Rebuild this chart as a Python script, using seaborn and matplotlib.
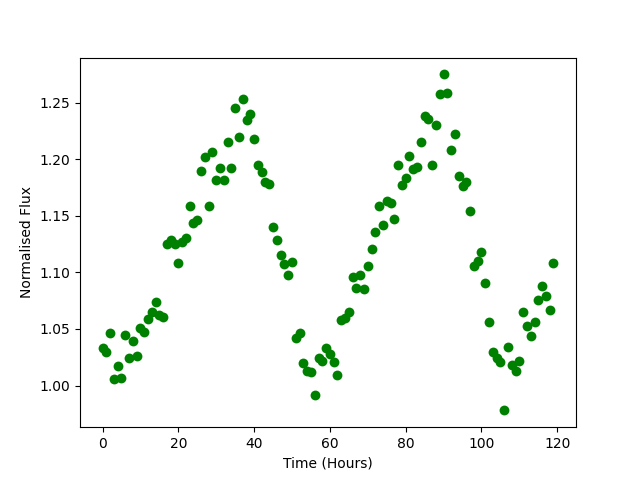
import numpy as np
import matplotlib
matplotlib.use("Agg")
import pandas as pd
import matplotlib.pyplot as plt
import seaborn as sns

hours = list(range(120))
flux = [1.033, 1.030, 1.046, 1.006, 1.017, 1.007, 1.045, 1.024, 1.039, 1.026,
        1.051, 1.047, 1.059, 1.065, 1.074, 1.062, 1.061, 1.125, 1.129, 1.125,
        1.108, 1.127, 1.130, 1.159, 1.144, 1.146, 1.190, 1.202, 1.159, 1.206,
        1.182, 1.192, 1.182, 1.215, 1.192, 1.245, 1.220, 1.253, 1.235, 1.240,
        1.218, 1.195, 1.189, 1.180, 1.178, 1.140, 1.129, 1.115, 1.107, 1.098,
        1.109, 1.042, 1.046, 1.020, 1.013, 1.012, 0.992, 1.024, 1.022, 1.033,
        1.028, 1.021, 1.009, 1.058, 1.060, 1.065, 1.096, 1.086, 1.098, 1.085,
        1.106, 1.121, 1.136, 1.159, 1.142, 1.163, 1.161, 1.147, 1.195, 1.177,
        1.183, 1.203, 1.191, 1.193, 1.215, 1.238, 1.236, 1.195, 1.230, 1.258,
        1.275, 1.259, 1.208, 1.222, 1.185, 1.176, 1.180, 1.154, 1.106, 1.110,
        1.118, 1.091, 1.056, 1.030, 1.024, 1.021, 0.978, 1.034, 1.018, 1.013,
        1.022, 1.065, 1.053, 1.044, 1.056, 1.076, 1.088, 1.079, 1.067, 1.108]

data = pd.DataFrame({"Time": hours, "Flux": flux})

fig, ax = plt.subplots(figsize=(6.4, 4.8), dpi=100)
sns.scatterplot(data=data, x="Time", y="Flux", color="green", s=50,
                linewidth=0, ax=ax)
ax.set_xlabel("Time (Hours)")
ax.set_ylabel("Normalised Flux")
plt.savefig("out.png")
